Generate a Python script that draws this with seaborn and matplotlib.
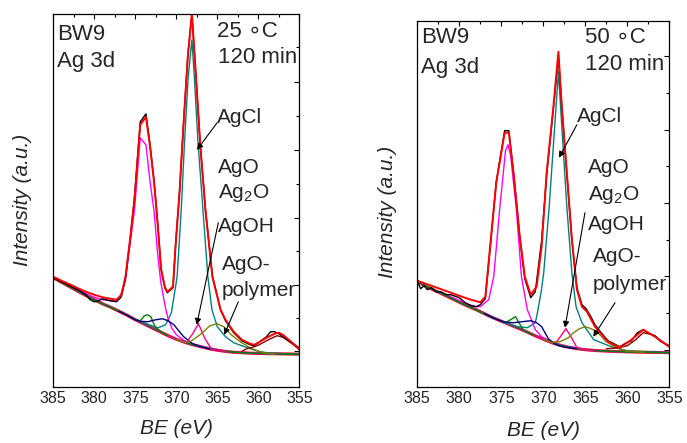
import numpy as np
import pandas as pd
import matplotlib
matplotlib.use("Agg")
import matplotlib.pyplot as plt
import seaborn as sns

# ---------------- data ----------------
# Binding-energy grid for the backgrounds (eV)
bg_be = [385, 384, 383, 382, 381, 380, 379, 378, 377, 376, 375, 374, 373, 372, 371,
         370, 369, 368, 367, 366, 365, 364, 363, 362, 361, 360, 359, 358, 357, 356, 355]

# ---- Left panel: 25 C, 120 min ----
bg_L = [109, 104.5, 100, 95.5, 91, 87, 83, 79.5, 75.5, 71.5, 67, 63, 59, 55, 51,
        47.5, 44.5, 42, 40, 38, 36.5, 35.3, 34.5, 34, 33.6, 33.3, 33.1, 33, 32.8, 32.7, 32.6]

env_be_L = [385, 384, 383, 382, 381, 380, 379, 378, 377.3, 376.7, 376.2, 375.6, 375.1, 374.4,
            373.7, 373.2, 372.7, 372.25, 371.85, 371.4, 371.1, 370.4, 370.1, 369.6, 369.1,
            368.6, 368.1, 367.6, 367.1, 366.45, 365.6, 364.6, 364.0, 363.0, 362.0, 361.0,
            360.5, 360.0, 359.0, 358.0, 357.5, 357.0, 356.0, 355.0]
env_L = [110, 106, 102.5, 98.5, 95, 92, 89.5, 88, 87, 92, 110, 150, 187, 262,
         270, 240, 204, 160, 117, 100, 95, 100, 140, 195, 265,
         330, 374, 310, 244, 177, 110, 77, 67, 55, 47, 43,
         42, 44, 49, 53, 54, 52, 45, 38]

dat_be_L = [385, 384, 383, 382, 381, 380.5, 380, 379.5, 379, 378, 377.3, 376.7, 376.2, 375.6,
            375.1, 374.4, 373.7, 373.2, 372.7, 372.25, 371.85, 371.4, 371.1, 370.4, 370.1,
            369.6, 369.1, 368.6, 368.1, 367.6, 367.1, 366.45, 365.6, 364.6, 364.0, 363.0,
            362.0, 361.0, 360.5, 360.0, 359.0, 358.5, 358.0, 357.5, 357.0, 356.0, 355.0]
dat_L = [109, 105, 101, 97, 92, 87, 85, 86, 88, 86, 85, 90, 108, 150,
         190, 265, 273, 242, 205, 162, 118, 99, 94, 99, 140,
         196, 266, 331, 372, 311, 245, 178, 111, 77, 66, 54,
         46, 42, 41, 44, 50, 55, 55, 53, 50, 44, 39]

agcl_be_L = [377, 376, 375, 374.4, 373, 372.2, 371.3, 370.6, 369.9, 369.4, 369.0, 368.55, 368.1,
             367.8, 367.35, 366.75, 366.15, 365.65, 365.0, 364.0, 363.0, 362.0, 361.0,
             360.0, 359, 357, 355]
agcl_L = [75.5, 71.5, 67, 65.5, 61, 59, 62, 74, 110, 177, 244, 310, 347,
          310, 244, 177, 110, 77, 60, 50, 44, 41, 38, 35.5, 34, 33, 32.6]

agcl32_be_L = [383, 381, 380, 379, 378, 377.5, 376.9, 376.2, 375.1, 374.4, 373.7, 373.2, 372.7,
               372.3, 371.9, 371.4, 371.0, 370.5, 370, 369, 368, 367, 366, 365]
agcl32_L = [101.5, 93, 89.5, 87, 86, 86, 88, 107, 177, 249, 242, 205, 175,
            135, 105, 82, 68, 58, 52, 46, 42.5, 40.5, 38.5, 36.8]

sat_be_L = [385, 380, 376, 375, 374.4, 373.9, 373.5, 373.1, 372.6, 372.0, 371.5, 371, 370,
            368, 366, 364, 362, 360, 358, 355]
sat_L = [109, 87, 71.5, 67, 66, 71, 72, 70, 60, 56, 53, 51, 47.5,
         42, 38, 35.3, 34, 33.3, 33, 32.6]

ago_be_L = [377, 376, 375, 374.4, 373.5, 372.5, 371.7, 371.0, 370.3, 369.5, 369.1, 368.0,
            367.0, 366.0, 365.0]
ago_L = [75.5, 71.5, 67, 65.5, 65, 67, 68, 66, 62, 54, 50, 43, 40, 38, 36.5]

agoh_be_L = [371, 370, 369, 368.7, 368.0, 367.3, 366.5, 365.7, 365.0, 364]
agoh_L = [51, 47.5, 44.5, 45, 53, 63, 48, 37.5, 36.5, 35.3]

poly_be_L = [370, 369, 368.3, 367.1, 365.9, 365.0, 364.2, 363.3, 362.2, 361.0, 360.0, 359.0, 358]
poly_L = [47.5, 44.5, 45, 52, 61, 63, 60, 52, 45, 39, 35.5, 33.5, 33]

plas_be_L = [362, 361.4, 360.5, 360, 359, 358, 357.7, 357, 356, 355]
plas_L = [35.5, 38, 40, 41.5, 46, 50, 51, 49.5, 44, 37]

# ---- Right panel: 50 C, 120 min ----
bg_R = [105, 100.5, 96.5, 92.5, 88.5, 84.5, 80.5, 77, 73, 69, 65.5, 62, 58.5, 55, 51,
        47.5, 44, 41.5, 39.5, 38, 37, 36.3, 35.8, 35.4, 35.1, 34.9, 34.7, 34.5, 34.3, 34.2, 34]

env_be_R = [385, 384, 383, 382, 381, 380, 379, 378, 377.5, 376.9, 376.4, 375.6, 374.6, 374.1,
            373.5, 372.8, 372.2, 371.5, 370.8, 370.2, 369.6, 368.8, 368.2, 367.8, 367.2,
            366.6, 366.0, 365.4, 364.8, 363.85, 362.3, 360.9, 359.5, 358.1, 356.7, 355.0]
env_R = [106, 103, 100, 97, 94, 91, 88, 85.5, 84.5, 90, 134, 204, 254, 254,
         210, 150, 110, 92, 100, 140, 214, 280, 335, 280, 214,
         147, 97, 80, 75, 60, 45, 39, 47, 57, 50, 40]

dat_be_R = [385, 384.6, 384.2, 383.8, 383.3, 382.8, 382.2, 381.5, 381, 380, 379.3, 378.6, 378,
            377.5, 376.9, 376.4, 375.6, 374.6, 374.1, 373.5, 372.8, 372.2, 371.5, 370.95,
            370.2, 369.6, 368.8, 368.2, 367.8, 367.2, 366.6, 366.0, 365.4, 364.9, 364.4,
            363.85, 363.2, 362.3, 361.6, 360.9, 360.3, 359.5, 358.8, 358.1, 357.4, 356.7,
            356.0, 355.0]
dat_R = [105, 98, 101, 97, 99, 95, 95, 92, 92, 89, 84, 81, 80,
         82, 88, 132, 205, 256, 256, 211, 149, 108, 89, 95,
         146, 212, 278, 330, 281, 213, 148, 99, 82, 78, 71,
         62, 55, 46, 43, 40, 43, 46, 54, 57, 53, 51,
         45, 41]

agcl_be_R = [377, 376, 375, 374.7, 373, 371.9, 370.95, 370.7, 370.25, 369.95, 369.3, 368.75, 368.2,
             367.7, 367.2, 366.6, 366.1, 365.4, 364.0, 361.9, 360, 357, 355]
agcl_R = [73, 69, 65.5, 64, 60, 59, 64, 74, 95, 114, 180, 247, 315,
          247, 180, 114, 80, 64, 47, 40, 36, 34.5, 34]

agcl32_be_R = [383, 381, 379, 378, 377.5, 376.5, 375.9, 375.2, 374.5, 374.2, 373.9, 373.2,
               372.6, 371.9, 370.95, 370.2, 369, 368, 367, 366]
agcl32_R = [97, 90, 82.5, 80, 80, 87, 110, 177, 236, 242, 232, 177,
            110, 77, 57, 50, 45, 42, 40, 38.5]

sat_be_R = [385, 380, 376, 375, 374.5, 373.9, 373.3, 372.9, 372.3, 371.5, 371, 370, 368,
            366, 364, 362, 360, 358, 355]
sat_R = [105, 84.5, 69, 65.5, 64, 67, 70, 64, 56, 53, 51, 47.5, 41.5,
         38, 36.3, 35.4, 34.9, 34.5, 34]

ago_be_R = [377, 376, 375, 374.5, 373.5, 372.5, 371.5, 370.8, 370.2, 369.4, 368.7, 368.0,
            367.0, 366.0]
ago_R = [73, 69, 65.5, 64.5, 64, 65, 66, 64, 60, 48, 43, 40.5, 39, 38]

agoh_be_R = [371, 370, 369, 368.4, 367.3, 366.7, 366.0, 365, 364]
agoh_R = [51, 47.5, 44, 45, 58, 50, 39, 37, 36.3]

poly_be_R = [370, 369, 368, 367, 366.4, 365.7, 365.0, 364.3, 363.6, 362.5, 361.3, 360, 359, 358]
poly_R = [47.5, 44, 45, 49, 54, 58, 60, 58, 55, 45, 39, 35.5, 35, 34.5]

plas_be_R = [362.5, 361.5, 361, 360, 359, 358.1, 357, 356, 355]
plas_R = [38, 38.5, 39, 41, 47, 54, 52, 46, 40]

x_ticks = [385, 380, 375, 370, 365, 360, 355]
temps = ["25 \u2218C", "50 \u2218C"]

# ---------------- style ----------------
sns.set_style("white")
plt.rcParams['font.family'] = ['Liberation Sans', 'DejaVu Sans']
plt.rcParams['mathtext.fontset'] = 'custom'
plt.rcParams['mathtext.rm'] = 'Liberation Sans'
plt.rcParams['mathtext.it'] = 'Liberation Sans:italic'

W, H = 687, 443
fig = plt.figure(figsize=(W / 100, H / 100), dpi=100)

# axes rectangles in pixels: (left, top, right, bottom)
rects = [(53.3, 14.0, 299.3, 386.7), (417.3, 20.7, 669.3, 386.7)]
axes = []
for (l, t, r, b) in rects:
    axes.append(fig.add_axes([l / W, 1 - b / H, (r - l) / W, (b - t) / H]))

C_TEAL = '#008080'
C_MAG = '#FF00FF'
C_GRN = '#008000'
C_NAVY = '#000080'
C_PINK = '#FF0080'
C_OLIVE = '#808000'
C_BROWN = '#8B0000'
C_RED = '#FF0000'


def line(ax, x, y, color, lw):
    sns.lineplot(x=x, y=y, ax=ax, color=color, linewidth=lw, estimator=None,
                 errorbar=None, legend=False)


panels = [
    dict(bg=bg_L, env=(env_be_L, env_L), dat=(dat_be_L, dat_L),
         comps=[(agcl_be_L, agcl_L, C_TEAL), (agcl32_be_L, agcl32_L, C_MAG),
                (sat_be_L, sat_L, C_GRN), (ago_be_L, ago_L, C_NAVY),
                (agoh_be_L, agoh_L, C_PINK), (poly_be_L, poly_L, C_OLIVE),
                (plas_be_L, plas_L, C_BROWN)],
         ylim=373.0,
         yticks=[35.3, 102, 168.7, 237, 305.3],
         yminor=[68.6, 135.4, 202.8, 271.2, 339.5],
         temp=temps[0],
         tx=dict(bw=(0.015, 0.930), ag=(0.015, 0.858), t=(0.665, 0.938), m=(0.668, 0.869),
                 agcl=(0.665, 0.708), ago=(0.668, 0.574), ag2o=(0.668, 0.507),
                 agoh=(0.668, 0.416), agop=(0.686, 0.314), poly=(0.686, 0.244)),
         arrows=[((367.48, 237), (365.04, 264)),
                 ((367.51, 62), (364.88, 164)),
                 ((364.15, 52), (362.44, 85))],
         ylab=(-0.087, 0.50), xlab=(0.5, -0.088)),
    dict(bg=bg_R, env=(env_be_R, env_R), dat=(dat_be_R, dat_R),
         comps=[(agcl_be_R, agcl_R, C_TEAL), (agcl32_be_R, agcl32_R, C_MAG),
                (sat_be_R, sat_R, C_GRN), (ago_be_R, ago_R, C_NAVY),
                (agoh_be_R, agoh_R, C_PINK), (poly_be_R, poly_R, C_OLIVE),
                (plas_be_R, plas_R, C_BROWN)],
         ylim=366.0,
         yticks=[37, 110.4, 183.8, 257.2, 330.6],
         yminor=[73.7, 147.1, 220.5, 293.9],
         temp=temps[1],
         tx=dict(bw=(0.015, 0.940), ag=(0.015, 0.858), t=(0.665, 0.940), m=(0.665, 0.866),
                 agcl=(0.634, 0.724), ago=(0.677, 0.585), ag2o=(0.677, 0.511),
                 agoh=(0.677, 0.429), agop=(0.697, 0.342), poly=(0.697, 0.265)),
         arrows=[((368.13, 229), (366.0, 262)),
                 ((367.42, 59), (365.04, 174)),
                 ((364.05, 50), (361.46, 84))],
         ylab=(-0.081, 0.478), xlab=(0.5, -0.093)),
]

FS_HEAD = 16
FS_LAB = 15
for ax, p in zip(axes, panels):
    # background bundle
    line(ax, bg_be, p['bg'], C_RED, 2.2)
    line(ax, bg_be, p['bg'], C_MAG, 1.5)
    line(ax, bg_be, p['bg'], '#2E5E1E', 0.9)
    for bx, by, c in p['comps']:
        line(ax, bx, by, c, 1.0)
    line(ax, p['dat'][0], p['dat'][1], 'black', 1.0)
    line(ax, p['env'][0], p['env'][1], C_RED, 1.4)

    ax.set_xlim(385, 355)
    ax.set_ylim(0, p['ylim'])
    ax.set_xticks(x_ticks)
    ax.set_xticks([382.5, 377.5, 372.5, 367.5, 362.5, 357.5], minor=True)
    ax.set_yticks(p['yticks'])
    ax.set_yticks(p['yminor'], minor=True)
    ax.tick_params(which='both', direction='in', top=True, right=True,
                   labelleft=False, width=0.8, color='black')
    ax.tick_params(which='major', length=3.6, pad=3)
    ax.tick_params(which='minor', length=2.0)
    for lab in ax.get_xticklabels():
        lab.set_fontsize(11.5)
    for s in ax.spines.values():
        s.set_visible(True)
        s.set_color('black')
        s.set_linewidth(0.9)

    ax.set_xlabel('BE (eV)', fontsize=15, style='italic')
    ax.set_ylabel('Intensity (a.u.)', fontsize=15, style='italic')
    ax.yaxis.set_label_coords(*p['ylab'])
    ax.xaxis.set_label_coords(*p['xlab'])
    ax.xaxis.label.set_verticalalignment('top')

    t = p['tx']
    kh = dict(transform=ax.transAxes, fontsize=FS_HEAD, va='baseline', ha='left')
    kl = dict(transform=ax.transAxes, fontsize=FS_LAB, va='baseline', ha='left')
    ax.text(*t['bw'], 'BW9', **kh)
    ax.text(*t['ag'], 'Ag 3d', **kh)
    ax.text(*t['t'], p['temp'], **kh)
    ax.text(*t['m'], '120 min', **kh)
    ax.text(*t['agcl'], 'AgCl', **kl)
    ax.text(*t['ago'], 'AgO', **kl)
    ax.text(*t['ag2o'], 'Ag$_2$O', **kl)
    ax.text(*t['agoh'], 'AgOH', **kl)
    ax.text(*t['agop'], 'AgO-', **kl)
    ax.text(*t['poly'], 'polymer', **kl)

    for head, tail in p['arrows']:
        ax.annotate('', xy=head, xytext=tail, xycoords='data', textcoords='data',
                    arrowprops=dict(arrowstyle='-|>', color='black', lw=0.8,
                                    mutation_scale=9, shrinkA=0, shrinkB=0))

fig.savefig('out.png', dpi=100)
